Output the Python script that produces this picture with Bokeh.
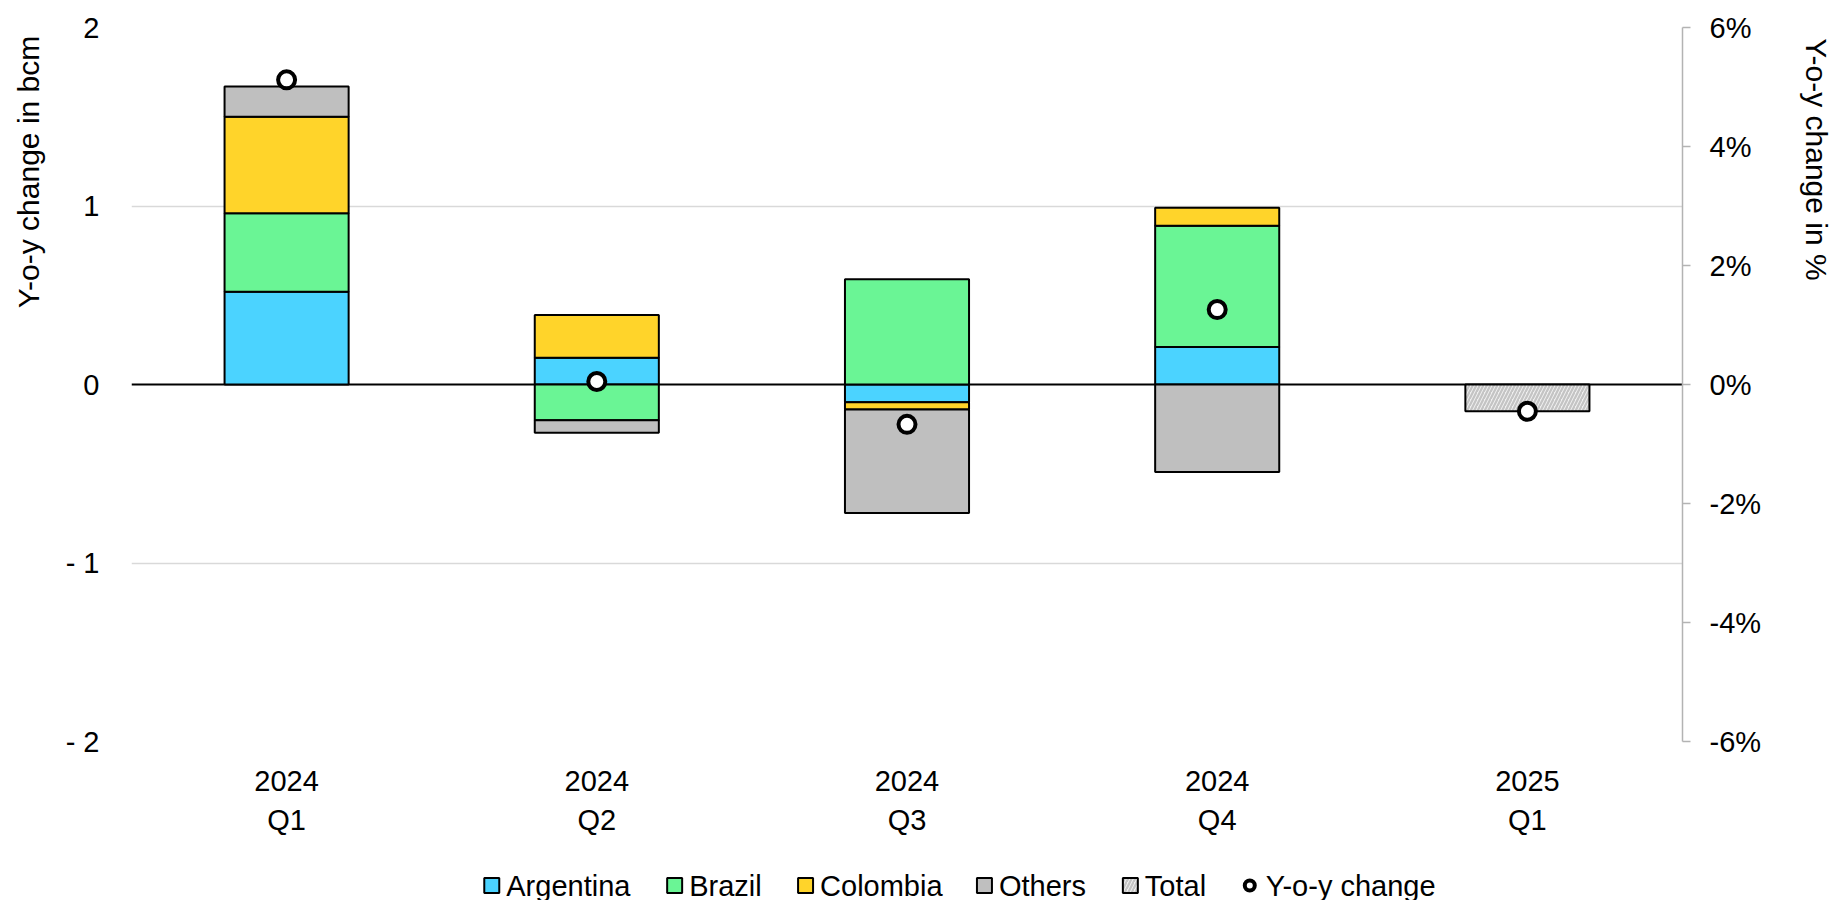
from bokeh.plotting import figure
from bokeh.layouts import column
from bokeh.models import (FactorRange, Range1d, LinearAxis, CategoricalAxis,
                          FixedTicker, CustomJSTickFormatter, Span,
                          ColumnDataSource)
from bokeh.core.properties import value
from bokeh.embed import file_html
from bokeh.resources import INLINE

# ---- data -------------------------------------------------------------
years = ["2024", "2024", "2024", "2024", "2025"]
quarters = ["Q1", "Q2", "Q3", "Q4", "Q1"]

# y-o-y change by country, bcm (no country split yet for 2025 Q1)
argentina = [0.52, 0.15, -0.10, 0.21, None]
brazil = [0.44, -0.20, 0.59, 0.68, None]
colombia = [0.54, 0.24, -0.04, 0.10, None]
others = [0.17, -0.07, -0.58, -0.49, None]
total = [None, None, None, None, -0.15]

# y-o-y change, %
yoy_pct = [5.12, 0.05, -0.67, 1.26, -0.45]

series_names = ["Argentina", "Brazil", "Colombia", "Others"]
series_values = [argentina, brazil, colombia, others]
series_colors = ["#4bd3ff", "#6af595", "#ffd42a", "#bfbfbf"]

periods = [f"{y} {q}" for y, q in zip(years, quarters)]

FONT = "Liberation Sans"
FS = "29px"
FS_TITLE = "30px"
BAR_LINE = dict(line_color="black", line_width=2)
TOTAL_STYLE = dict(fill_color="#f0f0f0", hatch_pattern="/", hatch_color="#c4c4c4",
                   hatch_scale=7, hatch_weight=2.2)
YOY_STYLE = dict(fill_color="white", line_color="black", line_width=4)

W, H_MAIN, H_LEG = 1836, 840, 60
BORDER_L, BORDER_R = 131, 153
NBSP = "\u00a0"

# ---- main chart -------------------------------------------------------
p = figure(
    width=W, height=H_MAIN,
    x_range=FactorRange(factors=periods),
    y_range=Range1d(-2, 2),
    output_backend="svg", toolbar_location=None,
    min_border_left=BORDER_L, min_border_right=BORDER_R,
    min_border_top=27, min_border_bottom=99,
)
p.extra_y_ranges = {"pct": Range1d(-6, 6)}
p.outline_line_color = None

# stacked bars: positives stack upward, negatives downward
pos = [0.0] * len(periods)
neg = [0.0] * len(periods)
for name, vals, color in zip(series_names, series_values, series_colors):
    xs, bottoms, tops = [], [], []
    for i, v in enumerate(vals):
        if v is None:
            continue
        if v >= 0:
            b, t = pos[i], pos[i] + v
            pos[i] = t
        else:
            b, t = neg[i], neg[i] + v
            neg[i] = t
        xs.append(periods[i]); bottoms.append(b); tops.append(t)
    src = ColumnDataSource(dict(x=xs, bottom=bottoms, top=tops))
    p.vbar(x="x", bottom="bottom", top="top", width=0.4, source=src,
           fill_color=color, **BAR_LINE)

tot_x = [periods[i] for i, v in enumerate(total) if v is not None]
tot_v = [v for v in total if v is not None]
p.vbar(x=tot_x, bottom=0, top=tot_v, width=0.4, **TOTAL_STYLE, **BAR_LINE)

p.add_layout(Span(location=0, dimension="width", line_color="black",
                  line_width=2.2, level="underlay"))

p.scatter(x=periods, y=yoy_pct, y_range_name="pct", size=17, **YOY_STYLE)

# ---- axes -------------------------------------------------------------
def style_labels(ax):
    ax.major_label_text_font = FONT
    ax.major_label_text_font_size = FS
    ax.major_label_text_color = "black"

def style_title(ax, text, standoff):
    ax.axis_label = text
    ax.axis_label_text_font = FONT
    ax.axis_label_text_font_size = FS_TITLE
    ax.axis_label_text_font_style = "normal"
    ax.axis_label_text_color = "black"
    ax.axis_label_standoff = standoff

# two stacked category axes: year on top, quarter underneath
p.xaxis.formatter = CustomJSTickFormatter(code="return String(tick).split(' ')[0];")
p.xaxis.major_label_standoff = 23
q_axis = CategoricalAxis(
    formatter=CustomJSTickFormatter(code="return String(tick).split(' ')[1];"),
    major_label_standoff=4)
p.add_layout(q_axis, "below")
for ax in p.xaxis:
    ax.axis_line_color = None
    ax.major_tick_line_color = None
    ax.minor_tick_line_color = None
    style_labels(ax)

left = p.yaxis[0]
left.ticker = FixedTicker(ticks=[-2, -1, 0, 1, 2])
left.formatter = CustomJSTickFormatter(
    code="return tick < 0 ? '- ' + Math.abs(tick) : String(tick);")
left.axis_line_color = None
left.major_tick_line_color = None
left.minor_tick_line_color = None
left.major_label_standoff = 26
style_labels(left)
# no-break spaces before the words keep the title at the upper end of the axis
style_title(left, NBSP * 51 + "Y-o-y change in bcm", 18)

right = LinearAxis(y_range_name="pct",
                   ticker=FixedTicker(ticks=[-6, -4, -2, 0, 2, 4, 6]),
                   formatter=CustomJSTickFormatter(code="return tick + '%';"))
right.axis_line_color = "#b3b3b3"
right.axis_line_width = 1.5
right.major_tick_line_color = "#b3b3b3"
right.major_tick_line_width = 1.5
right.major_tick_out = 8
right.major_tick_in = 0
right.minor_tick_line_color = None
right.major_label_standoff = 19
style_labels(right)
# this title reads downward, so the padding goes after the words
style_title(right, "Y-o-y change in %" + NBSP * 54, 36)
p.add_layout(right, "right")

p.xgrid.grid_line_color = None
p.ygrid.ticker = FixedTicker(ticks=[-2, -1, 1, 2])
p.ygrid.grid_line_color = "#d9d9d9"
p.ygrid.grid_line_width = 1.5

# ---- legend strip (x in page pixels; frame aligned with the chart) ----
leg = figure(width=W, height=H_LEG,
             x_range=Range1d(BORDER_L, W - BORDER_R),
             y_range=Range1d(0, H_LEG), output_backend="svg",
             toolbar_location=None, x_axis_location=None, y_axis_location=None,
             min_border_left=BORDER_L, min_border_right=BORDER_R,
             min_border_top=0, min_border_bottom=0)
leg.outline_line_color = None
leg.grid.grid_line_color = None

row_y = 15
box = 15
box_left = [484, 667, 798, 977, 1123]
box_labels = series_names + ["Total"]
box_x = [b + box / 2 for b in box_left]
leg.rect(x=box_x[:4], y=row_y, width=box, height=box,
         fill_color=series_colors, **BAR_LINE)
leg.rect(x=box_x[4:], y=row_y, width=box, height=box,
         **TOTAL_STYLE, **BAR_LINE)
leg.text(x=[b + 22 for b in box_left], y=row_y, text=box_labels,
         text_font=value(FONT), text_font_size=FS, text_color="black",
         text_baseline="middle", text_align="left")

yoy_cx = 1250
leg.scatter(x=[yoy_cx], y=row_y, size=10, **YOY_STYLE)
leg.text(x=[yoy_cx + 16], y=row_y, text=["Y-o-y change"],
         text_font=value(FONT), text_font_size=FS, text_color="black",
         text_baseline="middle", text_align="left")

open("out.html", "w").write(file_html(column(p, leg, spacing=0), INLINE))
